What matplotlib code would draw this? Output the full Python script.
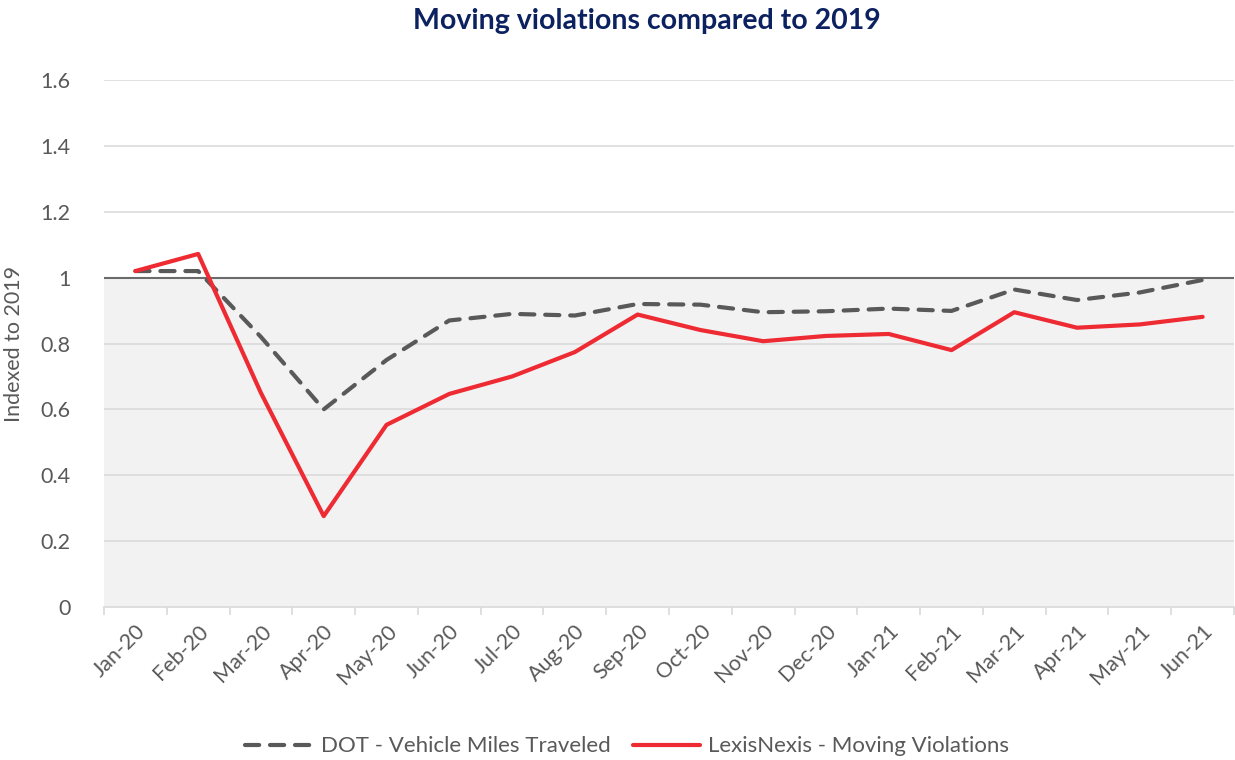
import matplotlib
matplotlib.use("Agg")
import matplotlib.pyplot as plt
import numpy as np

months = ["Jan-20", "Feb-20", "Mar-20", "Apr-20", "May-20", "Jun-20", "Jul-20", "Aug-20",
          "Sep-20", "Oct-20", "Nov-20", "Dec-20", "Jan-21", "Feb-21", "Mar-21", "Apr-21",
          "May-21", "Jun-21"]
dot_vmt = [1.02, 1.02, 0.82, 0.60, 0.75, 0.87, 0.89, 0.885, 0.92, 0.918, 0.895, 0.898,
           0.906, 0.899, 0.964, 0.932, 0.955, 0.993]
lexis_mv = [1.02, 1.072, 0.65, 0.276, 0.553, 0.647, 0.70, 0.774, 0.888, 0.841, 0.807, 0.823,
            0.829, 0.780, 0.895, 0.848, 0.858, 0.881]
yticks = [0, 0.2, 0.4, 0.6, 0.8, 1, 1.2, 1.4, 1.6]
ytick_labels = ["0", "0.2", "0.4", "0.6", "0.8", "1", "1.2", "1.4", "1.6"]

plt.rcParams['font.family'] = ['Lato', 'DejaVu Sans']
txt = "#595959"

fig = plt.figure(figsize=(12.35, 7.6), dpi=100)
ax = fig.add_axes([0.0842, 0.2013, 0.9150, 0.6934])

x = np.arange(len(months))
ax.set_xlim(-0.5, len(months) - 0.5)
ax.set_ylim(0, 1.6)

ax.axhspan(0, 1, color="#f2f2f2", zorder=0, lw=0)
ax.set_yticks(yticks)
ax.set_yticklabels(ytick_labels)
for v in yticks[1:]:
    ax.axhline(v, color="#d9d9d9", lw=1.1, zorder=1)
ax.axhline(1, color="#6b6b6b", lw=1.5, zorder=2)

ax.plot(x, dot_vmt, color="#595959", lw=3.0, ls=(0, (3.4, 2.6)), dash_capstyle="round",
        zorder=3, label="DOT - Vehicle Miles Traveled")
ax.plot(x, lexis_mv, color="#ee2a33", lw=3.0, zorder=4, solid_capstyle="round",
        label="LexisNexis - Moving Violations")

for s in ["top", "right", "left"]:
    ax.spines[s].set_visible(False)
ax.spines["bottom"].set_color("#d9d9d9")
ax.spines["bottom"].set_linewidth(1.2)

ax.set_xticks(x)
ax.set_xticklabels(months, rotation=45, ha="right", rotation_mode="anchor")
ax.set_xticks(np.arange(-0.5, len(months)), minor=True)
ax.tick_params(axis="x", which="major", length=0, pad=10, labelsize=15.5, labelcolor=txt)
ax.tick_params(axis="x", which="minor", length=6, color="#d9d9d9", width=1.2)
ax.tick_params(axis="y", length=0, pad=24, labelsize=15.5, labelcolor=txt)

ax.set_ylabel("Indexed to 2019", fontsize=15.5, color=txt, labelpad=12)

fig.suptitle("Moving violations compared to 2019", x=0.524, y=0.99, fontsize=20.5,
             fontweight="bold", color="#0c2160")

leg = fig.legend(loc="center", bbox_to_anchor=(0.508, 0.018), ncol=2, frameon=False,
                 fontsize=16, handlelength=3.0, columnspacing=1.0, handletextpad=0.4)
for t in leg.get_texts():
    t.set_color(txt)

fig.savefig("out.png", dpi=100)
